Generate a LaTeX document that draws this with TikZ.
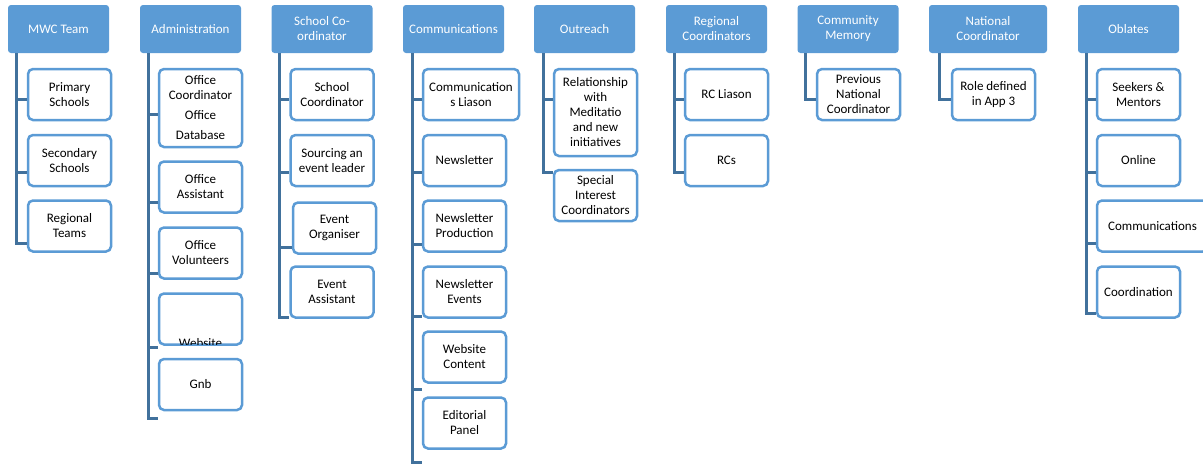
\documentclass[tikz,border=0pt]{standalone}
\usepackage{fontspec}
\setmainfont{Carlito}
\usepackage{tikz}
\definecolor{headblue}{HTML}{5B9BD5}
\definecolor{linkblue}{HTML}{41719C}

\begin{document}
\begin{tikzpicture}[x=1pt,y=-1pt,
  head/.style={fill=headblue,rounded corners=3pt,text=white,align=center,
    minimum width=101pt,minimum height=48pt,inner sep=0pt,font=\fontsize{13}{15}\selectfont},
  unit/.style={draw=headblue,line width=2.5pt,fill=white,rounded corners=5pt,align=center,
    minimum width=83pt,minimum height=51pt,inner sep=0pt,font=\fontsize{13}{15}\selectfont},
  link/.style={draw=linkblue,line width=3pt}]
\useasboundingbox (0,0) rectangle (1203,464);

% MWC Team
\node[head] (mwc) at (58.5,29) {MWC Team};
\node[unit] (mwc1) at (69.5,94.5) {Primary\\Schools};
\node[unit] (mwc2) at (69.5,160.5) {Secondary\\Schools};
\node[unit] (mwc3) at (69.5,226) {Regional\\Teams};
\coordinate (mwct1) at (16,99);
\coordinate (mwct2) at (16,172);
\coordinate (mwct3) at (16,243);
\draw[link] (mwc.south -| mwct1) -- (mwct3) -- (mwct3 -| mwc3.west);
\draw[link] (mwct1) -- (mwct1 -| mwc1.west);
\draw[link] (mwct2) -- (mwct2 -| mwc2.west);

% Administration
\node[head] (adm) at (190.5,29) {Administration};
\node[unit,minimum height=78pt] (adm1) at (200.5,108) {Office\\Coordinator\\[5pt]Office\\[5pt]Database};
\node[unit] (adm2) at (200.5,187) {Office\\Assistant};
\node[unit] (adm3) at (200.5,253) {Office\\Volunteers};
\node[unit] (adm4) at (200.5,319) {};
\begin{scope}
\clip ([yshift=-2pt]adm4.north west) rectangle ([yshift=1.5pt]adm4.south east);
\node[font=\fontsize{13}{15}\selectfont] (admweb) at (200.5,343.5) {Website};
\end{scope}
\node[unit] (adm5) at (200.5,384.5) {Gnb};
\coordinate (admt1) at (148,114);
\coordinate (admt2) at (148,202);
\coordinate (admt3) at (148,273);
\coordinate (admt4) at (148,347);
\coordinate (admt5) at (148,418);
\draw[link] (adm.south -| admt1) -- (admt5) -- (admt5 -| adm5.west);
\draw[link] (admt1) -- (admt1 -| adm1.west);
\draw[link] (admt2) -- (admt2 -| adm2.west);
\draw[link] (admt3) -- (admt3 -| adm3.west);
\draw[link] (admt4) -- (admt4 -| adm4.west);

% School Co-ordinator
\node[head] (sch) at (322,29) {School Co-\\ordinator};
\node[unit] (sch1) at (332,94.5) {School\\Coordinator};
\node[unit] (sch2) at (332,160.5) {Sourcing an\\event leader};
\node[unit] (sch3) at (334.5,228) {Event\\Organiser};
\node[unit] (sch4) at (332,292) {Event\\Assistant};
\coordinate (scht1) at (279,99);
\coordinate (scht2) at (279,172);
\coordinate (scht3) at (279,247);
\coordinate (scht4) at (279,317);
\draw[link] (sch.south -| scht1) -- (scht4) -- (scht4 -| sch4.west);
\draw[link] (scht1) -- (scht1 -| sch1.west);
\draw[link] (scht2) -- (scht2 -| sch2.west);
\draw[link] (scht3) -- (scht3 -| sch3.west);

% Communications
\node[head] (com) at (453.5,29) {Communications};
\node[unit,minimum width=96pt] (com1) at (471,94.5) {Communication\\s Liason};
\node[unit] (com2) at (464.5,160.5) {Newsletter};
\node[unit] (com3) at (464.5,226) {Newsletter\\Production};
\node[unit] (com4) at (464.5,292) {Newsletter\\Events};
\node[unit] (com5) at (464.5,357) {Website\\Content};
\node[unit] (com6) at (464.5,423) {Editorial\\Panel};
\coordinate (comt1) at (412,99);
\coordinate (comt2) at (412,172);
\coordinate (comt3) at (412,244);
\coordinate (comt4) at (412,316);
\coordinate (comt5) at (412,389);
\coordinate (comt6) at (412,462);
\draw[link] (com.south -| comt1) -- (comt6) -- (comt6 -| com6.west);
\draw[link] (comt1) -- (comt1 -| com1.west);
\draw[link] (comt2) -- (comt2 -| com2.west);
\draw[link] (comt3) -- (comt3 -| com3.west);
\draw[link] (comt4) -- (comt4 -| com4.west);
\draw[link] (comt5) -- (comt5 -| com5.west);

% Outreach
\node[head] (out) at (584.5,29) {Outreach};
\node[unit,minimum height=87pt] (out1) at (595.5,112.5) {Relationship\\with\\Meditatio\\and new\\initiatives};
\node[unit] (out2) at (595.5,195.5) {Special\\Interest\\Coordinators};
\coordinate (outt1) at (543,99);
\coordinate (outt2) at (543,172);
\draw[link] (out.south -| outt1) -- (outt2) -- (outt2 -| out2.west);
\draw[link] (outt1) -- (outt1 -| out1.west);

% Regional Coordinators
\node[head] (reg) at (716.5,29) {Regional\\Coordinators};
\node[unit] (reg1) at (726.5,94.5) {RC Liason};
\node[unit] (reg2) at (726.5,160.5) {RCs};
\coordinate (regt1) at (674,99);
\coordinate (regt2) at (674,172);
\draw[link] (reg.south -| regt1) -- (regt2) -- (regt2 -| reg2.west);
\draw[link] (regt1) -- (regt1 -| reg1.west);

% Community Memory
\node[head] (mem) at (848,29) {Community\\Memory};
\node[unit] (mem1) at (858.5,94.5) {Previous\\National\\Coordinator};
\coordinate (memt1) at (805,99);
\draw[link] (mem.south -| memt1) -- (memt1) -- (memt1 -| mem1.west);

% National Coordinator
\node[head,minimum width=118pt] (nat) at (988,29) {National\\Coordinator};
\node[unit] (nat1) at (993.5,94.5) {Role defined\\in App 3};
\coordinate (natt1) at (939,99);
\draw[link] (nat.south -| natt1) -- (natt1) -- (natt1 -| nat1.west);

% Oblates
\node[head] (obl) at (1128.5,29) {Oblates};
\node[unit] (obl1) at (1138.5,94.5) {Seekers \&\\Mentors};
\node[unit] (obl2) at (1138.5,160.5) {Online};
\node[unit,minimum width=111pt] (obl3) at (1152.5,226) {Communications};
\node[unit] (obl4) at (1138.5,292) {Coordination};
\coordinate (oblt1) at (1086,99);
\coordinate (oblt2) at (1086,172);
\coordinate (oblt3) at (1086,243);
\coordinate (oblt4) at (1086,313);
\draw[link] (obl.south -| oblt1) -- (oblt4) -- (oblt4 -| obl4.west);
\draw[link] (oblt1) -- (oblt1 -| obl1.west);
\draw[link] (oblt2) -- (oblt2 -| obl2.west);
\draw[link] (oblt3) -- (oblt3 -| obl3.west);
\end{tikzpicture}
\end{document}
